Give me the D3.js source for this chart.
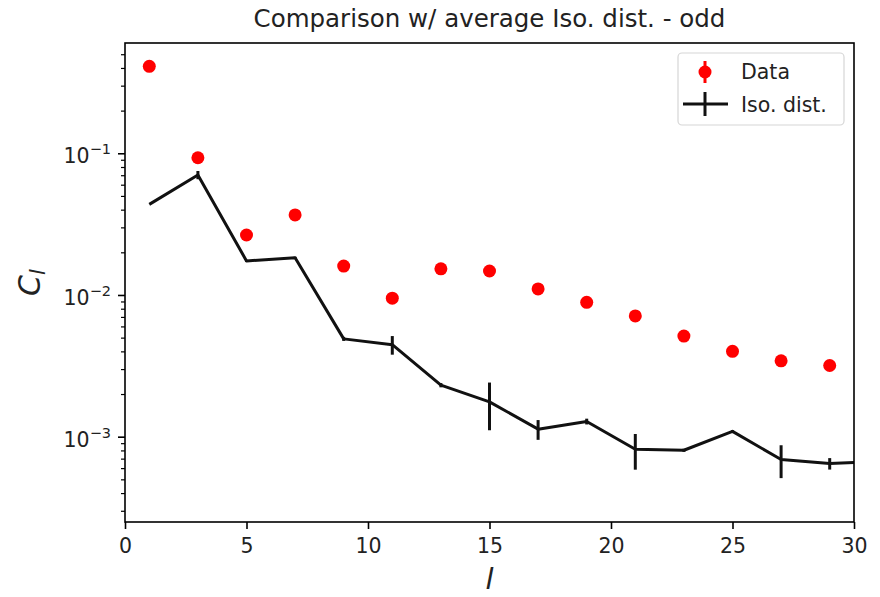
<!DOCTYPE html>
<html><head><meta charset="utf-8">
<script src="https://cdn.jsdelivr.net/npm/d3@7"></script>
<style>body{margin:0;background:#fff}</style>
</head><body>
<svg id="chart" width="880" height="597"></svg>
<script>
// ---- data ----
const ell = [1, 3, 5, 7, 9, 11, 13, 15, 17, 19, 21, 23, 25, 27, 29];
const dataC = [0.411, 0.093, 0.0265, 0.0367, 0.0160, 0.0095, 0.0153, 0.01476, 0.01104, 0.00887, 0.00712, 0.00513, 0.0040, 0.00343, 0.00318];
const dataErr = [0.01, 0.002, 0.0005, 0.0008, 0.0003, 0.0002, 0.0003, 0.0003, 0.0002, 0.0002, 0.00015, 0.0001, 0.00008, 0.00007, 0.00006];
const isoEll = [1, 3, 5, 7, 9, 11, 13, 15, 17, 19, 21, 23, 25, 27, 29, 31];
const isoC = [0.0436, 0.0703, 0.0174, 0.0183, 0.0049, 0.00446, 0.00231, 0.00176, 0.00113, 0.00128, 0.000815, 0.000802, 0.00109, 0.00069, 0.000646, 0.00067];
const isoErr = [0, 0.0047, 0.0003, 0.0003, 0.00016, 0.00067, 0.00008, 0.00065, 0.00018, 0.00006, 0.00023, 0.00002, 0.00002, 0.00018, 0.00006, 0.00004];
const xTicks = [0, 5, 10, 15, 20, 25, 30];
const yTickExps = [-1, -2, -3];
const titleText = "Comparison w/ average Iso. dist. - odd";
const legendLabels = ["Data", "Iso. dist."];

// ---- layout ----
const W = 880, H = 597;
const L = 125, R = 854, T = 43, B = 522;
const font = "DejaVu Sans, sans-serif";
const svg = d3.select("#chart");
svg.append("rect").attr("width", W).attr("height", H).attr("fill", "#fff");

const x = d3.scaleLinear().domain([0, 30]).range([L, R]);
const y = d3.scaleLog().domain([2.5e-4, 0.6]).range([B, T]);

svg.append("defs").append("clipPath").attr("id", "clip")
  .append("rect").attr("x", L).attr("y", T).attr("width", R - L).attr("height", B - T);

const plot = svg.append("g").attr("clip-path", "url(#clip)");

// Data errorbars + points
plot.selectAll("line.derr").data(ell).enter().append("line")
  .attr("x1", (d) => x(d)).attr("x2", (d) => x(d))
  .attr("y1", (d, i) => y(dataC[i] + dataErr[i]))
  .attr("y2", (d, i) => y(Math.max(dataC[i] - dataErr[i], 1e-6)))
  .attr("stroke", "#f00").attr("stroke-width", 3);
plot.selectAll("circle.dot").data(ell).enter().append("circle")
  .attr("cx", (d) => x(d)).attr("cy", (d, i) => y(dataC[i]))
  .attr("r", 6.5).attr("fill", "#f00");

// Iso line
const line = d3.line().x((d) => x(d[0])).y((d) => y(d[1]));
plot.append("path").datum(isoEll.map((d, i) => [d, isoC[i]]))
  .attr("d", line).attr("fill", "none").attr("stroke", "#111")
  .attr("stroke-width", 3).attr("stroke-linejoin", "round");
plot.selectAll("line.ierr").data(isoEll).enter().append("line")
  .attr("x1", (d) => x(d)).attr("x2", (d) => x(d))
  .attr("y1", (d, i) => y(isoC[i] + isoErr[i]))
  .attr("y2", (d, i) => y(isoC[i] - isoErr[i]))
  .attr("stroke", "#111").attr("stroke-width", 3);

// Spines
svg.append("rect").attr("x", L).attr("y", T).attr("width", R - L).attr("height", B - T)
  .attr("fill", "none").attr("stroke", "#000").attr("stroke-width", 1.6);

// X axis
const xAxis = d3.axisBottom(x).tickValues(xTicks).tickSize(7).tickPadding(9).tickFormat(d3.format("d"));
const gx = svg.append("g").attr("transform", `translate(0,${B})`).call(xAxis);
gx.select(".domain").remove();
gx.selectAll(".tick line").attr("stroke", "#000").attr("stroke-width", 1.6);
gx.selectAll(".tick text").attr("font-family", font).attr("font-size", 20.5).attr("fill", "#222");

// Y axis major ticks
const yMajor = yTickExps.map((e) => Math.pow(10, e));
const yAxis = d3.axisLeft(y).tickValues(yMajor).tickSize(7).tickFormat("");
const gy = svg.append("g").attr("transform", `translate(${L},0)`).call(yAxis);
gy.select(".domain").remove();
gy.selectAll(".tick line").attr("stroke", "#000").attr("stroke-width", 1.6);
// Y labels (mathtext-like)
yTickExps.forEach((e) => {
  const t = svg.append("text").attr("x", 111).attr("y", y(Math.pow(10, e)) + 10)
    .attr("text-anchor", "end").attr("font-family", font).attr("fill", "#222");
  t.append("tspan").attr("font-size", 20.5).text("10");
  t.append("tspan").attr("font-size", 14.5).attr("dy", -9).text("\u2212" + Math.abs(e));
});
// Y minor ticks
const minor = [];
for (let e = -4; e <= -1; e++) for (let m = 2; m <= 9; m++) {
  const v = m * Math.pow(10, e);
  if (v >= 2.5e-4 && v <= 0.6) minor.push(v);
}
const yMinorAxis = d3.axisLeft(y).tickValues(minor).tickSize(4).tickFormat("");
const gym = svg.append("g").attr("transform", `translate(${L},0)`).call(yMinorAxis);
gym.select(".domain").remove();
gym.selectAll(".tick line").attr("stroke", "#000").attr("stroke-width", 1.2);

// Title
svg.append("text").attr("x", (L + R) / 2).attr("y", 27).attr("text-anchor", "middle")
  .attr("font-family", font).attr("font-size", 24.5).attr("fill", "#222").text(titleText);

// Axis labels
svg.append("text").attr("x", (L + R) / 2).attr("y", 589).attr("text-anchor", "middle")
  .attr("font-family", font).attr("font-style", "italic").attr("font-size", 29).attr("fill", "#222").text("l");
const yl = svg.append("text").attr("transform", `translate(40,${(T + B) / 2}) rotate(-90)`)
  .attr("text-anchor", "middle").attr("font-family", font).attr("font-style", "italic").attr("fill", "#222");
yl.append("tspan").attr("font-size", 30).text("C");
yl.append("tspan").attr("font-size", 21).attr("dy", 5).text("l");

// Legend
const lg = svg.append("g");
lg.append("rect").attr("x", 678).attr("y", 53).attr("width", 166).attr("height", 72)
  .attr("rx", 4).attr("fill", "#fff").attr("fill-opacity", 0.8)
  .attr("stroke", "#d6d6d6").attr("stroke-width", 1.2);
// Data entry
lg.append("line").attr("x1", 705).attr("x2", 705).attr("y1", 61).attr("y2", 83)
  .attr("stroke", "#f00").attr("stroke-width", 3);
lg.append("circle").attr("cx", 705).attr("cy", 72).attr("r", 6.5).attr("fill", "#f00");
// Iso entry
lg.append("line").attr("x1", 683).attr("x2", 728).attr("y1", 104).attr("y2", 104)
  .attr("stroke", "#111").attr("stroke-width", 3);
lg.append("line").attr("x1", 705).attr("x2", 705).attr("y1", 92).attr("y2", 116)
  .attr("stroke", "#111").attr("stroke-width", 3);
lg.selectAll("text.lt").data(legendLabels).enter().append("text")
  .attr("x", 741).attr("y", (d, i) => 79 + i * 33)
  .attr("font-family", font).attr("font-size", 20.5).attr("fill", "#222").text((d) => d);
</script>
</body></html>
